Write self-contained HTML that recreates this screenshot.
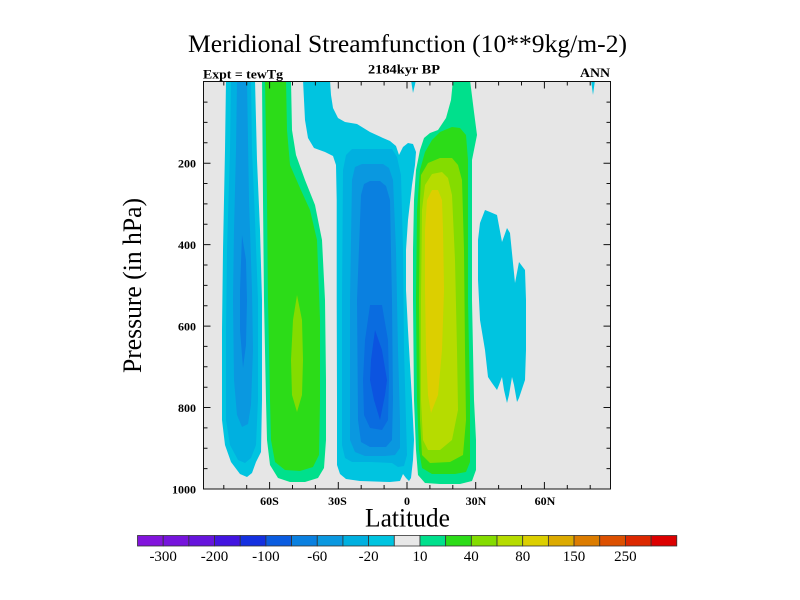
<!DOCTYPE html>
<html><head><meta charset="utf-8"><style>
html,body{margin:0;padding:0;background:#fff;}
svg{display:block;}
text{font-family:"Liberation Serif","DejaVu Serif",serif;fill:#000;}
</style></head><body>
<svg width="800" height="600" viewBox="0 0 800 600" xmlns="http://www.w3.org/2000/svg">
<defs><clipPath id="pc"><rect x="203.5" y="81.5" width="407" height="407.5"/></clipPath></defs>
<rect x="0" y="0" width="800" height="600" fill="#fff"/>
<!-- titles -->
<text x="407.5" y="52" font-size="25" text-anchor="middle" textLength="439" lengthAdjust="spacingAndGlyphs">Meridional Streamfunction (10**9kg/m-2)</text>
<text x="203" y="78.5" font-size="12.5" font-weight="bold" textLength="80" lengthAdjust="spacingAndGlyphs">Expt = tewTg</text>
<text x="368" y="73.5" font-size="12.5" font-weight="bold" textLength="72" lengthAdjust="spacingAndGlyphs">2184kyr BP</text>
<text x="580" y="77" font-size="12.5" font-weight="bold" textLength="30" lengthAdjust="spacingAndGlyphs">ANN</text>

<!-- plot -->
<rect x="203.5" y="81.5" width="407" height="407.5" fill="#e6e6e6"/>
<g clip-path="url(#pc)">
<!-- Cell A -->
<path fill="#00c4e0" d="M226,80 L225,150 L223,250 L222,330 L222,420 L225,445 L231,462 L240,474 L247,477 L252,473 L256,462 L261,452 L262,400 L262,300 L260,230 L257,160 L255,80 Z"/>
<path fill="#00b0e0" d="M231,80 L230,150 L227,250 L226,330 L226,420 L230,445 L238,460 L245,463 L251,458 L256,445 L258,400 L258,300 L255,220 L252,150 L251,80 Z"/>
<path fill="#0a98e0" d="M237,80 L236,150 L234,230 L233,300 L234,380 L237,415 L242,427 L248,424 L251,405 L253,350 L252,290 L249,200 L247,80 Z"/>
<path fill="#0a80e0" d="M242,235 L240,290 L240,330 L243,368 L246,345 L247,300 L246,260 Z"/>
<!-- Cell B -->
<path fill="#00e08c" d="M262,80 L263,200 L264,300 L266,400 L267,440 L270,465 L278,478 L290,482 L305,482 L318,478 L324,468 L326,440 L326,380 L325,300 L322,240 L315,205 L305,180 L296,155 L292,130 L291,80 Z"/>
<path fill="#2cdc18" d="M265,80 L267,200 L268,300 L270,400 L271,440 L275,462 L285,470 L300,471 L313,467 L319,455 L320,400 L320,320 L317,240 L310,210 L300,188 L290,165 L287,130 L286,80 Z"/>
<path fill="#84dc00" d="M297,295 L293,320 L291,360 L292,395 L297,412 L302,395 L303,360 L302,320 Z"/>
<!-- Cell C -->
<path fill="#00c4e0" d="M303,80 L305,120 L308,138 L314,148 L325,152 L333,156 L336,165 L336.7,200 L336.7,300 L337,400 L337,465 L340,474 L346,479 L360,481 L390,482 L400,481 L403,474 L406,478 L409,481 L411,478 L413,460 L414,440 L412,400 L408,330 L406,290 L406,250 L408,220 L412,185 L415,165 L416,152 L413,144 L408,143 L403,147 L399,155 L396,146 L390,141 L383,138 L370,132 L357,124 L345,122 L338,118 L333,108 L331,95 L330,80 Z"/>
<path fill="#00c4e0" d="M411,80 L416,80 L413,93 Z"/>
<path fill="#00c4e0" d="M591,80 L595,80 L593,95 Z"/>
<path fill="#00b0e0" d="M343,170 L346,155 L352,149 L392,149 L397,157 L401,175 L403,250 L404,350 L406,420 L407,455 L404,466 L398,467 L392,463 L370,462 L352,462 L345,458 L342,445 L342,300 Z"/>
<path fill="#0a98e0" d="M352,180 L355,167 L362,164 L383,164 L389,168 L393,180 L396,250 L398,350 L400,420 L400,448 L395,455 L385,456 L365,456 L355,452 L350,440 L350,300 Z"/>
<path fill="#0a80e0" d="M361,195 L364,184 L370,181 L380,181 L386,186 L390,200 L392,300 L393,400 L392,440 L386,447 L370,447 L361,442 L358,420 L357,300 Z"/>
<path fill="#0a6ce0" d="M370,305 L365,340 L363,380 L364,415 L370,428 L382,430 L388,420 L389,380 L388,340 L382,305 Z"/>
<path fill="#0c54e0" d="M375,330 L371,360 L370,380 L374,400 L380,420 L385,395 L387,380 L382,350 Z"/>
<!-- Cell D -->
<path fill="#00e08c" d="M453,80 L451,100 L446,118 L438,130 L430,133 L424,138 L420,150 L416,170 L414,200 L413,250 L413,300 L414,400 L416,450 L418,475 L425,483 L440,484 L460,484 L472,481 L476,470 L476,440 L474,400 L472,300 L472,160 L477,135 L474,112 L470,80 Z"/>
<path fill="#2cdc18" d="M425,152 L420,170 L417,210 L416,300 L417,400 L419,450 L422,468 L432,474 L455,474 L466,472 L470,462 L470,400 L468,300 L468,160 L466,135 L460,128 L452,127 L440,132 L432,140 Z"/>
<path fill="#84dc00" d="M420,200 L421,175 L428,163 L440,158 L452,158 L458,165 L462,180 L464,250 L465,350 L466,420 L463,455 L450,462 L430,463 L422,455 L420,420 L419,300 Z"/>
<path fill="#b6dc00" d="M422,210 L425,185 L432,174 L442,172 L448,178 L452,195 L455,260 L457,350 L458,410 L452,440 L440,450 L428,450 L423,440 L421,400 L421,300 Z"/>
<path fill="#dccf00" d="M425,230 L427,200 L432,190 L438,190 L442,200 L443,230 L444,290 L442,350 L438,395 L431,413 L428,395 L426,350 L425,290 Z"/>
<!-- Cell E -->
<path fill="#00c4e0" d="M480,223 L485,210 L490,212 L497,215 L502,242 L507,228 L510,233 L515,283 L519,262 L525,270 L526,300 L526,350 L525,380 L519,398 L517,402 L514,385 L512,377 L509,395 L507,403 L504,390 L502,377 L499,385 L497,390 L492,383 L488,377 L485,350 L480,320 L478,280 L478,240 Z"/>
</g>
<rect x="203.5" y="81.5" width="407" height="407.5" fill="none" stroke="#111" stroke-width="1"/>
<!-- ticks -->
<g stroke="#111" stroke-width="1" fill="none">
<!-- x major bottom/top -->
<path d="M269.6,489 v-7 M338.3,489 v-7 M407,489 v-7 M475.7,489 v-7 M544.4,489 v-7
M269.6,81.5 v7 M338.3,81.5 v7 M407,81.5 v7 M475.7,81.5 v7 M544.4,81.5 v7"/>
<!-- x minor -->
<path d="M223.8,489 v-4 M246.7,489 v-4 M292.5,489 v-4 M315.4,489 v-4 M361.2,489 v-4 M384.1,489 v-4 M429.9,489 v-4 M452.8,489 v-4 M498.6,489 v-4 M521.5,489 v-4 M567.3,489 v-4 M590.2,489 v-4
M223.8,81.5 v4 M246.7,81.5 v4 M292.5,81.5 v4 M315.4,81.5 v4 M361.2,81.5 v4 M384.1,81.5 v4 M429.9,81.5 v4 M452.8,81.5 v4 M498.6,81.5 v4 M521.5,81.5 v4 M567.3,81.5 v4 M590.2,81.5 v4"/>
<!-- y major -->
<path d="M203.5,163.2 h7 M203.5,244.6 h7 M203.5,326.1 h7 M203.5,407.5 h7
M610.5,163.2 h-7 M610.5,244.6 h-7 M610.5,326.1 h-7 M610.5,407.5 h-7"/>
<!-- y minor -->
<path d="M203.5,102.1 h4 M203.5,122.4 h4 M203.5,142.8 h4 M203.5,183.5 h4 M203.5,203.9 h4 M203.5,224.3 h4 M203.5,265 h4 M203.5,285.4 h4 M203.5,305.7 h4 M203.5,346.4 h4 M203.5,366.8 h4 M203.5,387.2 h4 M203.5,427.9 h4 M203.5,448.3 h4 M203.5,468.6 h4
M610.5,102.1 h-4 M610.5,122.4 h-4 M610.5,142.8 h-4 M610.5,183.5 h-4 M610.5,203.9 h-4 M610.5,224.3 h-4 M610.5,265 h-4 M610.5,285.4 h-4 M610.5,305.7 h-4 M610.5,346.4 h-4 M610.5,366.8 h-4 M610.5,387.2 h-4 M610.5,427.9 h-4 M610.5,448.3 h-4 M610.5,468.6 h-4"/>
</g>
<!-- y tick labels -->
<g font-size="12" font-weight="bold" text-anchor="end">
<text x="196" y="167.5">200</text>
<text x="196" y="249">400</text>
<text x="196" y="330.5">600</text>
<text x="196" y="412">800</text>
<text x="196" y="493.5">1000</text>
</g>
<!-- x tick labels -->
<g font-size="12" font-weight="bold" text-anchor="middle">
<text x="269.5" y="505">60S</text>
<text x="337.5" y="505">30S</text>
<text x="407" y="505">0</text>
<text x="476" y="505">30N</text>
<text x="545" y="505">60N</text>
</g>
<text x="407.5" y="526.7" font-size="26" text-anchor="middle" textLength="85" lengthAdjust="spacingAndGlyphs">Latitude</text>
<text transform="translate(141,285.5) rotate(-90)" font-size="26" text-anchor="middle" textLength="175" lengthAdjust="spacingAndGlyphs">Pressure (in hPa)</text>

<!-- colorbar -->
<g stroke="#333" stroke-width="0.8">
<rect x="137.5" y="535.5" width="25.68" height="10.5" fill="#8214dc"/>
<rect x="163.18" y="535.5" width="25.68" height="10.5" fill="#7614dc"/>
<rect x="188.86" y="535.5" width="25.68" height="10.5" fill="#6614dc"/>
<rect x="214.54" y="535.5" width="25.68" height="10.5" fill="#4214e0"/>
<rect x="240.22" y="535.5" width="25.68" height="10.5" fill="#1430e0"/>
<rect x="265.9" y="535.5" width="25.68" height="10.5" fill="#0a5ce0"/>
<rect x="291.58" y="535.5" width="25.68" height="10.5" fill="#0a80e0"/>
<rect x="317.26" y="535.5" width="25.68" height="10.5" fill="#0a98e0"/>
<rect x="342.94" y="535.5" width="25.68" height="10.5" fill="#00b0e0"/>
<rect x="368.62" y="535.5" width="25.68" height="10.5" fill="#00c4e0"/>
<rect x="394.3" y="535.5" width="25.68" height="10.5" fill="#e8e8e8"/>
<rect x="419.98" y="535.5" width="25.68" height="10.5" fill="#00e08c"/>
<rect x="445.66" y="535.5" width="25.68" height="10.5" fill="#2cdc18"/>
<rect x="471.34" y="535.5" width="25.68" height="10.5" fill="#84dc00"/>
<rect x="497.02" y="535.5" width="25.68" height="10.5" fill="#b6dc00"/>
<rect x="522.7" y="535.5" width="25.68" height="10.5" fill="#dccf00"/>
<rect x="548.38" y="535.5" width="25.68" height="10.5" fill="#dcaa00"/>
<rect x="574.06" y="535.5" width="25.68" height="10.5" fill="#dc7c00"/>
<rect x="599.74" y="535.5" width="25.68" height="10.5" fill="#dc5000"/>
<rect x="625.42" y="535.5" width="25.68" height="10.5" fill="#dc2800"/>
<rect x="651.1" y="535.5" width="25.68" height="10.5" fill="#dc0000"/>
</g>
<g font-size="15" text-anchor="middle">
<text x="163.2" y="561">-300</text>
<text x="214.5" y="561">-200</text>
<text x="265.9" y="561">-100</text>
<text x="317.3" y="561">-60</text>
<text x="368.6" y="561">-20</text>
<text x="420" y="561">10</text>
<text x="471.3" y="561">40</text>
<text x="522.7" y="561">80</text>
<text x="574" y="561">150</text>
<text x="625.4" y="561">250</text>
</g>
</svg>
</body></html>
